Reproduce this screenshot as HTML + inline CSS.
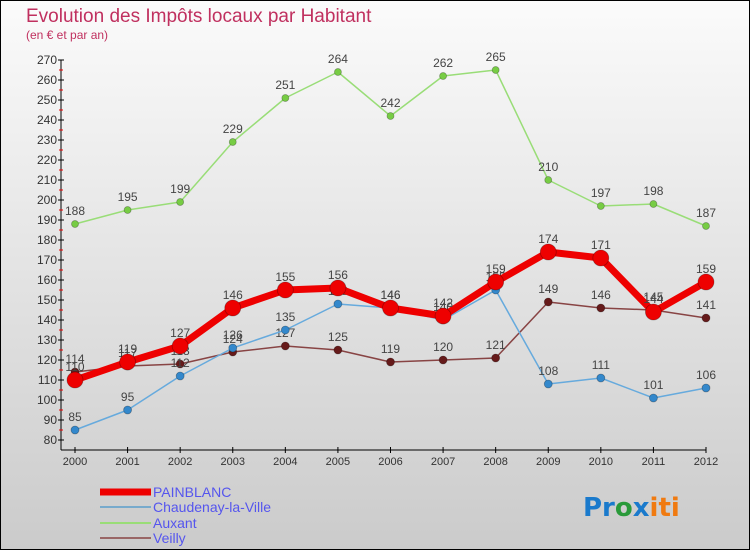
<!DOCTYPE html>
<html><head><meta charset="utf-8"><style>
html,body{margin:0;padding:0}
body{width:750px;height:550px;overflow:hidden;font-family:"Liberation Sans","DejaVu Sans",sans-serif}
</style></head><body>
<svg id="chart" width="750" height="550" xmlns="http://www.w3.org/2000/svg">
<defs><linearGradient id="bg" x1="0" y1="0" x2="0" y2="1"><stop offset="0" stop-color="#fbfbfb"/><stop offset="1" stop-color="#cbcbcb"/></linearGradient></defs>
<rect x="0.5" y="0.5" width="749" height="549" fill="url(#bg)" stroke="#000"/>
<text x="26" y="22" font-size="19" fill="#c0305f">Evolution des Impôts locaux par Habitant</text>
<text x="26" y="39" font-size="12" fill="#c0305f">(en € et par an)</text>
<g id="axes"></g>
<g id="series"></g>
<g id="legend"></g>
<text x="583" y="516" font-size="26" font-weight="bold" font-family="DejaVu Sans, sans-serif"><tspan fill="#1a7acc">Pr</tspan><tspan fill="#2a9a3a">o</tspan><tspan fill="#1a7acc">x</tspan><tspan fill="#f07a10">iti</tspan></text>
</svg>
<script>
const years=["2000","2001","2002","2003","2004","2005","2006","2007","2008","2009","2010","2011","2012"];
const yTicks=[80,90,100,110,120,130,140,150,160,170,180,190,200,210,220,230,240,250,260,270];
const painblanc=[110,119,127,146,155,156,146,142,159,174,171,144,159];
const chaudenay=[85,95,112,126,135,148,146,140,155,108,111,101,106];
const auxant=[188,195,199,229,251,264,242,262,265,210,197,198,187];
const veilly=[114,117,118,124,127,125,119,120,121,149,146,145,141];
const seriesNames=["PAINBLANC","Chaudenay-la-Ville","Auxant","Veilly"];
const NS="http://www.w3.org/2000/svg";
function xS(i){return 75+i*(706-75)/12;}
function yS(v){return 440-(v-80)*2;}
function mk(tag,attrs,parent){const e=document.createElementNS(NS,tag);for(const k in attrs)e.setAttribute(k,attrs[k]);parent.appendChild(e);return e;}
const axes=document.getElementById('axes');
let yl=mk('line',{x1:61,y1:60,x2:61,y2:450,stroke:'#000'},axes);


let xl=mk('line',{x1:61,y1:450,x2:706,y2:450,stroke:'#000'},axes);


yTicks.forEach(v=>{
  mk('line',{x1:58,y1:yS(v),x2:64,y2:yS(v),stroke:'#000'},axes);
  if(v<270)mk('line',{x1:59,y1:yS(v+5),x2:63,y2:yS(v+5),stroke:'#e00'},axes);
  const t=mk('text',{x:57,y:yS(v)+4,'text-anchor':'end','font-size':12,fill:'#333'},axes);
  
  
  t.textContent=v;
});
years.forEach((y,i)=>{
  mk('line',{x1:xS(i),y1:447,x2:xS(i),y2:453,stroke:'#000'},axes);
  const t=mk('text',{x:xS(i),y:465,'text-anchor':'middle','font-size':11,fill:'#333'},axes);
  
  
  t.textContent=y;
});
const sg=document.getElementById('series');
const defs=[[auxant,'#99dd77','#77cc44',1.5,3.5,'auxant'],[veilly,'#884444','#661a1a',1.5,4,'veilly'],[chaudenay,'#66aadd','#3388cc',1.5,4,'chaudenay'],[painblanc,'#ee0000','#ee0000',7,8,'painblanc']];
defs.forEach(d=>{
  const [vals,lc,pc,w,r,nm]=d;
  const p=mk('polyline',{points:vals.map((v,i)=>xS(i)+','+yS(v)).join(' '),fill:'none',stroke:lc,'stroke-width':w,'stroke-linejoin':'round'},sg);
  
  
  vals.forEach((v,i)=>{
    const c=mk('circle',{cx:xS(i),cy:yS(v),r:r,fill:pc,stroke:'rgba(0,0,0,0.3)','stroke-width':0.8},sg);
    
    
    const t=mk('text',{x:xS(i),y:yS(v)-9,'text-anchor':'middle','font-size':12,fill:'#444'},sg);
    
    
    t.textContent=v;
  });
});
const lg=document.getElementById('legend');
const lcols=['#ee0000','#77aacc','#99dd77','#996666'];const lw=[7,2,2,2];const ly=[492,507,523,538];
seriesNames.forEach((n,i)=>{
  const l=mk('line',{x1:100,y1:ly[i],x2:151,y2:ly[i],stroke:lcols[i],'stroke-width':lw[i]},lg);
  
  
  const t=mk('text',{x:153,y:ly[i]+5,'font-size':14,fill:'#5555ee'},lg);
  
  
  t.textContent=n;
});
</script>
</body></html>
